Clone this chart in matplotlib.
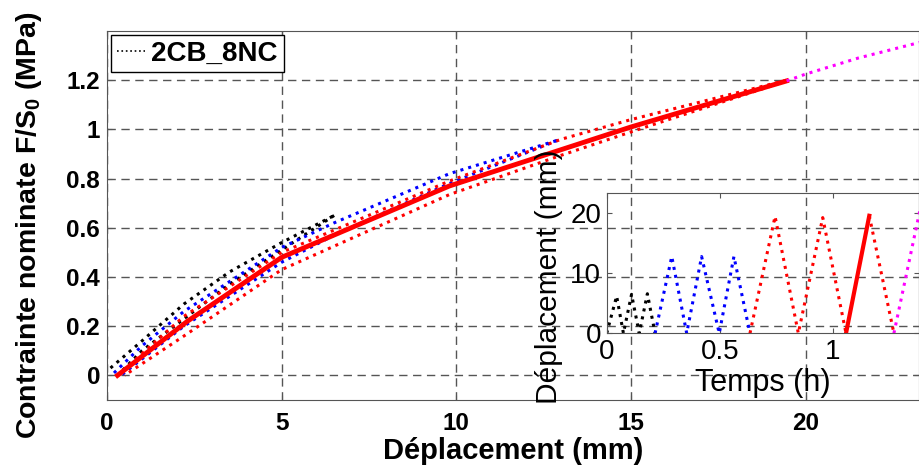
import numpy as np
import matplotlib.pyplot as plt

plt.rcParams['font.family'] = ['Liberation Sans', 'DejaVu Sans']
plt.rcParams['mathtext.fontset'] = 'custom'
plt.rcParams['mathtext.rm'] = 'Liberation Sans'
plt.rcParams['mathtext.bf'] = 'Liberation Sans:bold'

# main plot: displacement (mm) vs nominal stress (MPa)
black_up_x = [0.1, 1.0, 2.2, 3.5, 5.0, 6.5]
black_up_y = [0.03, 0.14, 0.29, 0.42, 0.54, 0.65]
black_dn_x = [6.5, 5.0, 3.5, 2.2, 1.0, 0.3]
black_dn_y = [0.65, 0.51, 0.37, 0.23, 0.10, 0.0]

blue_up_x = [0.2, 1.0, 2.2, 5.0, 6.5, 9.8, 12.9]
blue_up_y = [0.01, 0.12, 0.26, 0.52, 0.62, 0.82, 0.956]
blue_dn_x = [12.9, 9.8, 6.5, 5.0, 2.2, 0.4]
blue_dn_y = [0.956, 0.78, 0.57, 0.46, 0.20, 0.0]

red_up_x = [0.3, 2.2, 5.0, 9.8, 13.0, 15.0, 19.45]
red_up_y = [0.0, 0.24, 0.50, 0.79, 0.96, 1.04, 1.2]
red_dn_x = [19.45, 15.0, 12.9, 9.8, 5.0, 2.2, 0.5]
red_dn_y = [1.197, 0.99, 0.89, 0.735, 0.43, 0.16, 0.0]

red_solid_x = [0.3, 2.3, 5.0, 9.8, 15.0, 19.45]
red_solid_y = [0.0, 0.22, 0.48, 0.77, 1.01, 1.197]

mag_x = [19.45, 20.0, 21.5, 23.3]
mag_y = [1.197, 1.225, 1.29, 1.355]

# inset: time (h) vs displacement (mm)
t_black = [0.0, 0.044, 0.074, 0.11, 0.144, 0.18, 0.214]
d_black = [0.0, 6.2, 0.0, 6.5, 0.0, 6.6, 0.0]
t_blue = [0.214, 0.288, 0.354, 0.42, 0.498, 0.563, 0.634]
d_blue = [0.0, 12.8, 0.0, 12.8, 0.0, 12.8, 0.0]
t_red = [0.634, 0.745, 0.848, 0.956, 1.059]
d_red = [0.0, 19.5, 0.0, 19.3, 0.0]
t_red_solid = [1.059, 1.162]
d_red_solid = [0.0, 19.6]
t_red2 = [1.162, 1.271]
d_red2 = [19.6, 0.0]
t_mag = [1.271, 1.40]
d_mag = [0.0, 23.0]

W, H = 919, 466
fig = plt.figure(figsize=(W / 100, H / 100), dpi=100)
ax = fig.add_axes([107 / W, 1 - 400 / H, 1 - 107 / W, (400 - 31) / H])

lw = 2.2
ax.plot(black_up_x, black_up_y, ':', color='black', lw=lw, label='2CB_8NC')
ax.plot(black_dn_x, black_dn_y, ':', color='black', lw=lw)
ax.plot(blue_up_x, blue_up_y, ':', color='blue', lw=lw)
ax.plot(blue_dn_x, blue_dn_y, ':', color='blue', lw=lw)
ax.plot(red_up_x, red_up_y, ':', color='red', lw=lw)
ax.plot(red_dn_x, red_dn_y, ':', color='red', lw=lw)
ax.plot(red_solid_x, red_solid_y, '-', color='red', lw=3.5)
ax.plot(mag_x, mag_y, ':', color='magenta', lw=lw)

ax.set_xlim(0, 23.24)
ax.set_ylim(-0.1, 1.4)
ax.set_xticks([0, 5, 10, 15, 20])
ax.set_yticks([0, 0.2, 0.4, 0.6, 0.8, 1, 1.2])
ax.set_yticklabels(['0', '0.2', '0.4', '0.6', '0.8', '1', '1.2'])
ax.tick_params(direction='in', top=True, right=True, labelsize=17.5, colors='#555555',
               labelcolor='black')
ax.tick_params(axis='x', pad=9)
ax.tick_params(axis='y', pad=5)
for lab in ax.get_xticklabels() + ax.get_yticklabels():
    lab.set_fontweight('bold')
for s in ax.spines.values():
    s.set_color('#555555')
ax.grid(True, color='#555555', linestyle=(0, (6, 4)), lw=1)
ax.set_xlabel('Déplacement (mm)', fontsize=21, fontweight='bold', labelpad=1)
ax.set_ylabel(r'Contrainte nominate F/S$_\mathbf{0}$ (MPa)', fontsize=20.5,
              fontweight='bold')
ax.yaxis.set_label_coords(-0.077, 0.475)

leg = ax.legend(loc='upper left', prop={'weight': 'bold', 'size': 20},
                handlelength=1.0, handletextpad=0.25, borderpad=0.2,
                fancybox=False, edgecolor='black', framealpha=1,
                borderaxespad=0.15)
leg.get_frame().set_linewidth(1)
leg.get_lines()[0].set_linewidth(1.2)

# inset
ins = fig.add_axes([606.7 / W, 1 - 333.3 / H, 1 - 606.7 / W, (333.3 - 193) / H])
ins.patch.set_alpha(0)
ins.plot(t_black, d_black, ':', color='black', lw=lw)
ins.plot(t_blue, d_blue, ':', color='blue', lw=lw)
ins.plot(t_red, d_red, ':', color='red', lw=lw)
ins.plot(t_red_solid, d_red_solid, '-', color='red', lw=3)
ins.plot(t_red2, d_red2, ':', color='red', lw=lw)
ins.plot(t_mag, d_mag, ':', color='magenta', lw=lw)
ins.set_xlim(0, 1.382)
ins.set_ylim(0, 23.4)
ins.set_xticks([0, 0.5, 1])
ins.set_xticklabels(['0', '0.5', '1'])
ins.set_yticks([0, 10, 20])
ins.tick_params(direction='in', top=True, right=True, labelsize=20, colors='#555555',
                labelcolor='black', pad=4)
for s in ins.spines.values():
    s.set_color('#555555')
ins.set_xlabel('Temps (h)', fontsize=22, labelpad=2)
ins.set_ylabel('Déplacement (mm)', fontsize=21.5)
ins.yaxis.set_label_coords(-0.14, 0.40)

fig.savefig('out.png', dpi=100)
